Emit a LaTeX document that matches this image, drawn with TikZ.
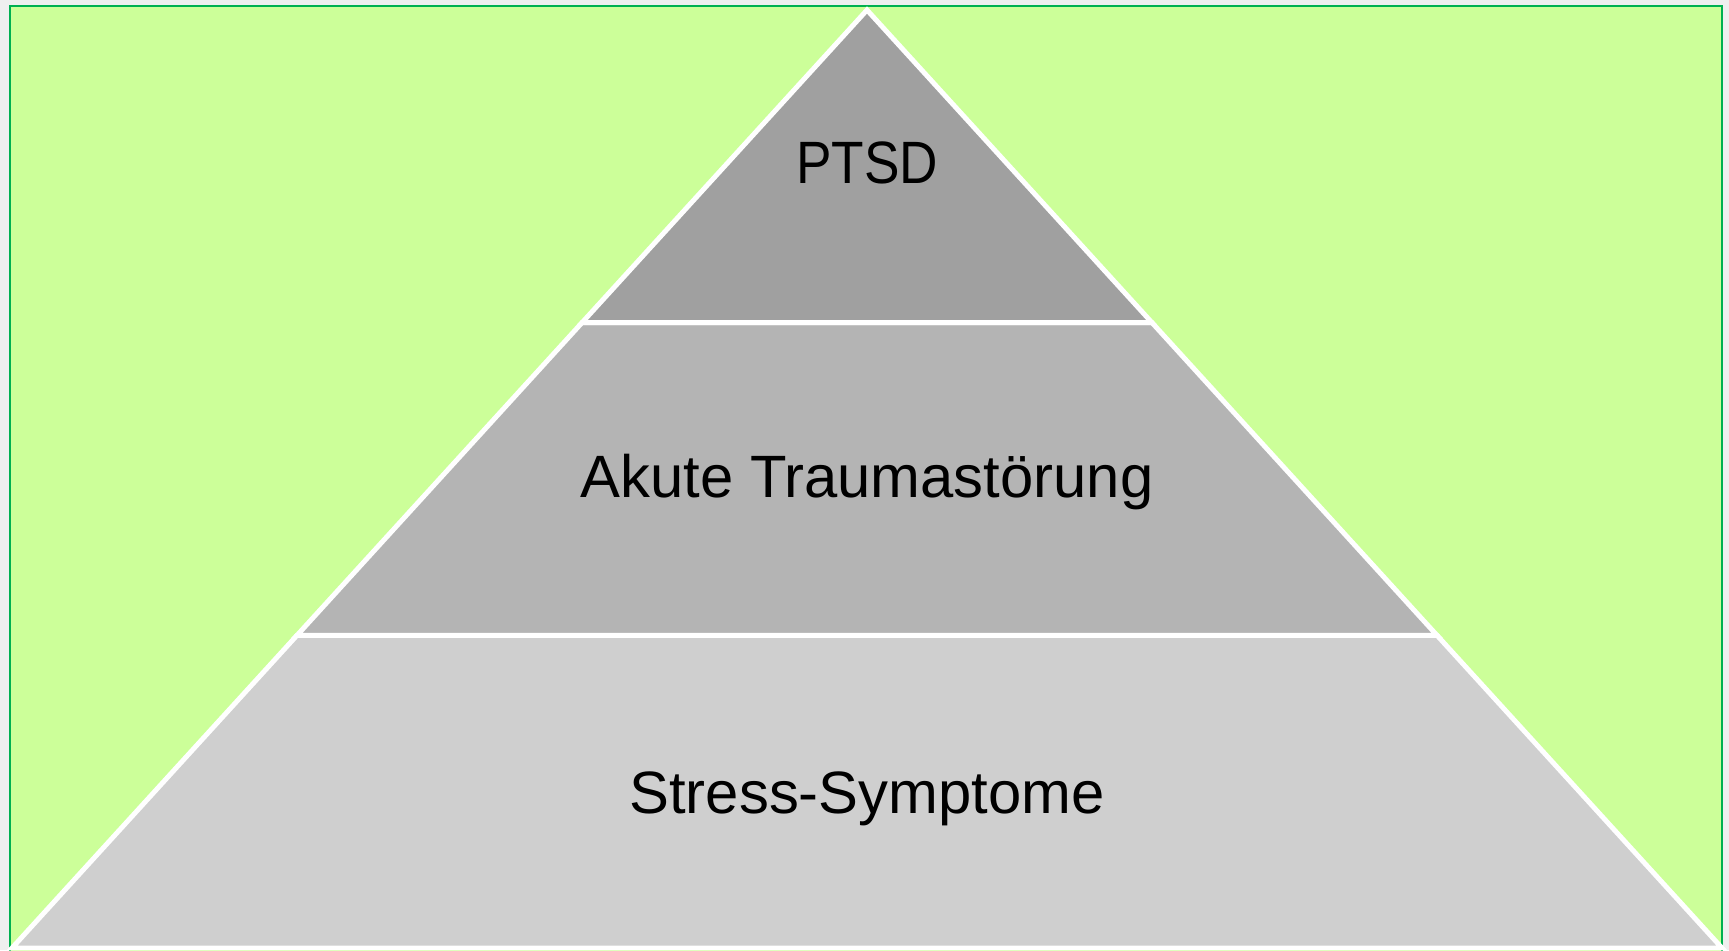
\documentclass[tikz,border=0pt]{standalone}
\usepackage{fontspec}
\setmainfont{Liberation Sans}
\newfontfamily\condfont[FakeStretch=0.89]{Liberation Sans}
\usepackage{xcolor}
\definecolor{paper}{HTML}{EFEFEF}
\definecolor{meadow}{HTML}{CCFF99}
\definecolor{frame}{HTML}{00B050}
\definecolor{tiertop}{HTML}{A0A0A0}
\definecolor{tiermid}{HTML}{B4B4B4}
\definecolor{tierlow}{HTML}{CFCFCF}
\usepackage{tikz}
\usetikzlibrary{calc}

\begin{document}
\begin{tikzpicture}[x=0.01cm,y=-0.01cm,
  tier/.style={draw=white,line width=1.4pt,line join=miter},
  tiertext/.style={text=black,anchor=base,font=\fontsize{17}{20}\selectfont}]
  % page and frame
  \clip (0,0) rectangle (1729,950);
  \fill[paper] (0,0) rectangle (1729,950);
  \draw[frame,fill=meadow,line width=0.8pt] (10,6) rectangle (1722,970);
  % pyramid corners
  \coordinate (apex) at (867,10);
  \coordinate (bl) at (12,948);
  \coordinate (br) at (1722,948);
  \coordinate (ml) at ($(apex)!1/3!(bl)$);
  \coordinate (mr) at ($(apex)!1/3!(br)$);
  \coordinate (ll) at ($(apex)!2/3!(bl)$);
  \coordinate (lr) at ($(apex)!2/3!(br)$);
  % tiers
  \filldraw[tier,fill=tierlow] (ll) -- (lr) -- (br) -- (bl) -- cycle;
  \filldraw[tier,fill=tiermid] (ml) -- (mr) -- (lr) -- (ll) -- cycle;
  \filldraw[tier,fill=tiertop] (apex) -- (mr) -- (ml) -- cycle;
  % labels
  \node[tiertext] (ptsd) at (867,183) {\condfont PTSD};
  \node[tiertext] (akut) at (867,497) {Akute Traumastörung};
  \node[tiertext] (stress) at (867,813) {Stress-Symptome};
\end{tikzpicture}
\end{document}
